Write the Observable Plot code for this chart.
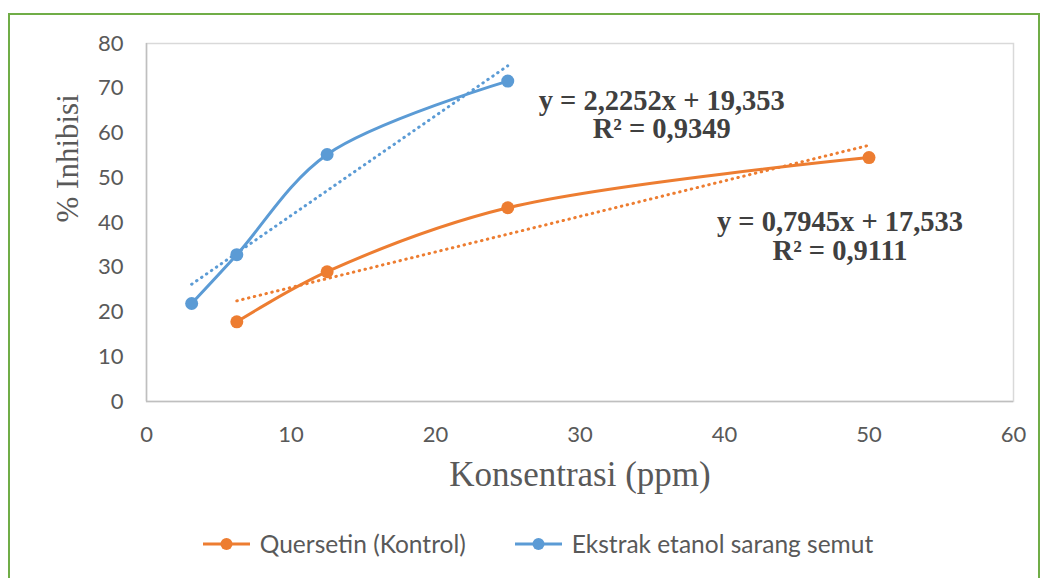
<!DOCTYPE html>
<html>
<head>
<meta charset="utf-8">
<script src="https://cdn.jsdelivr.net/npm/d3@7"></script>
<script src="https://cdn.jsdelivr.net/npm/@observablehq/plot@0.6"></script>
<style>
  html, body { margin: 0; padding: 0; background: #fff; }
  #wrap { position: relative; width: 1042px; height: 578px; overflow: hidden; background: #fff; }
  #chart { position: absolute; left: 0; top: 0; }
  #border { position: absolute; left: 8px; top: 13px; width: 1032px; height: 600px; border: 2px solid #70AD47; box-sizing: border-box; pointer-events: none; }
  #legend { position: absolute; left: 0; top: 529px; width: 1042px; display: flex; justify-content: center; gap: 49px;
            font-family: Lato, "Open Sans", sans-serif; font-size: 24.5px; color: #595959; padding-left: 34px; box-sizing: border-box; }
  .item { display: flex; align-items: center; gap: 10px; }
</style>
</head>
<body>
<div id="wrap">
  <div id="chart"></div>
  <div id="legend"></div>
  <div id="border"></div>
</div>
<script>
// ---- data ----
const seriesNames = ["Quersetin (Kontrol)", "Ekstrak etanol sarang semut"];
const seriesColors = ["#ED7D31", "#5B9BD5"];
const konsentrasiQuersetin = [6.25, 12.5, 25, 50];
const inhibisiQuersetin = [17.8, 29.0, 43.3, 54.5];
const konsentrasiEkstrak = [3.125, 6.25, 12.5, 25];
const inhibisiEkstrak = [21.9, 32.8, 55.2, 71.6];
const equationQuersetin = "y = 0,7945x + 17,533\nR\u00B2 = 0,9111";
const equationEkstrak = "y = 2,2252x + 19,353\nR\u00B2 = 0,9349";
const xTicks = [0, 10, 20, 30, 40, 50, 60];
const yTicks = [0, 10, 20, 30, 40, 50, 60, 70, 80];
const xTitle = "Konsentrasi (ppm)";
const yTitle = "% Inhibisi";

const quersetin = konsentrasiQuersetin.map((x, i) => ({x, y: inhibisiQuersetin[i], s: seriesNames[0]}));
const ekstrak = konsentrasiEkstrak.map((x, i) => ({x, y: inhibisiEkstrak[i], s: seriesNames[1]}));

const W = 1042, H = 520;
const serif = "'Liberation Serif', 'Times New Roman', serif";

const dotted = {strokeWidth: 3, strokeDasharray: "0.5,5.5", strokeLinecap: "round", ci: 0};

const chart = Plot.plot({
  width: W,
  height: H,
  marginLeft: 146,
  marginRight: 29,
  marginTop: 43,
  marginBottom: H - 401,
  style: {fontFamily: "Lato, 'Open Sans', sans-serif", fontSize: "22px", color: "#595959", background: "transparent", overflow: "visible"},
  x: {domain: [0, 60]},
  y: {domain: [0, 80]},
  marks: [
    Plot.frame({stroke: "#d9d9d9", strokeWidth: 1.5}),
    Plot.axisX({ticks: xTicks, tickSize: 0, tickPadding: 25, label: null, fontSize: 22}),
    Plot.axisY({ticks: yTicks, tickSize: 0, tickPadding: 23, label: null, fontSize: 22}),
    Plot.ruleX([0], {stroke: "#bfbfbf", strokeWidth: 1.5}),
    Plot.ruleY([0], {stroke: "#bfbfbf", strokeWidth: 1.5}),
    Plot.linearRegressionY(quersetin, {x: "x", y: "y", stroke: seriesColors[0], ...dotted}),
    Plot.linearRegressionY(ekstrak, {x: "x", y: "y", stroke: seriesColors[1], ...dotted}),
    Plot.line(quersetin, {x: "x", y: "y", stroke: seriesColors[0], strokeWidth: 3, curve: "catmull-rom"}),
    Plot.line(ekstrak, {x: "x", y: "y", stroke: seriesColors[1], strokeWidth: 3, curve: "catmull-rom"}),
    Plot.dot(quersetin, {x: "x", y: "y", r: 6.5, fill: seriesColors[0]}),
    Plot.dot(ekstrak, {x: "x", y: "y", r: 6.5, fill: seriesColors[1]}),
    Plot.text(ekstrak.slice(-1), {x: "x", y: "y", text: () => equationEkstrak, dx: 154, dy: 57,
      lineAnchor: "bottom", lineHeight: 1.0, textAnchor: "middle", fontFamily: serif, fontWeight: "bold", fontSize: 28.5, fill: "#404040"}),
    Plot.text(quersetin.slice(-1), {x: "x", y: "y", text: () => equationQuersetin, dx: -29, dy: 102,
      lineAnchor: "bottom", lineHeight: 1.0, textAnchor: "middle", fontFamily: serif, fontWeight: "bold", fontSize: 28.5, fill: "#404040"}),
    Plot.text([xTitle], {frameAnchor: "bottom", text: d => d, dy: 84, lineAnchor: "bottom",
      fontFamily: serif, fontSize: 35, fill: "#595959"}),
    Plot.text([yTitle], {frameAnchor: "left", text: d => d, dx: -69, rotate: -90, lineAnchor: "bottom",
      fontFamily: serif, fontSize: 31, fill: "#595959"})
  ]
});
document.getElementById("chart").appendChild(chart);

// legend
const legend = d3.select("#legend");
seriesNames.forEach((name, i) => {
  const item = legend.append("div").attr("class", "item");
  const sw = item.append("svg").attr("width", 47).attr("height", 16);
  sw.append("line").attr("x1", 0).attr("x2", 47).attr("y1", 8).attr("y2", 8)
    .attr("stroke", seriesColors[i]).attr("stroke-width", 3);
  sw.append("circle").attr("cx", 23.5).attr("cy", 8).attr("r", 6).attr("fill", seriesColors[i]);
  item.append("span").text(name);
});
</script>
</body>
</html>
